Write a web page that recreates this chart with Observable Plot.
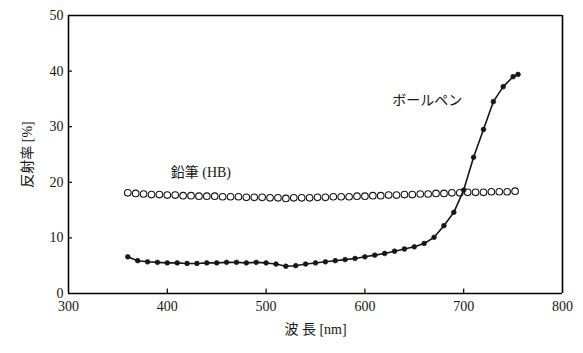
<!DOCTYPE html>
<html><head><meta charset="utf-8">
<script src="https://cdn.jsdelivr.net/npm/d3@7"></script>
<script src="https://cdn.jsdelivr.net/npm/@observablehq/plot@0.6"></script>
<style>
body{margin:0;background:#fff}
#chart svg{font-family:'Liberation Serif','Noto Sans CJK JP',serif;font-size:14px;color:#161616}
</style>
</head><body><div id="chart"></div>
<script>
const xTicks = [300, 400, 500, 600, 700, 800];
const yTicks = [0, 10, 20, 30, 40, 50];

const pencilNm = [360,368,376,384,392,400,408,416,424,432,440,448,456,464,472,480,488,496,504,512,520,528,536,544,552,560,568,576,584,592,600,608,616,624,632,640,648,656,664,672,680,688,696,704,712,720,728,736,744,752];
const pencilR = [18.1,18.0,17.9,17.8,17.8,17.7,17.7,17.6,17.6,17.5,17.5,17.5,17.4,17.4,17.4,17.3,17.3,17.3,17.2,17.2,17.1,17.2,17.2,17.2,17.3,17.3,17.4,17.4,17.4,17.5,17.5,17.6,17.6,17.7,17.7,17.8,17.8,17.9,17.9,18.0,18.0,18.1,18.1,18.2,18.2,18.2,18.3,18.3,18.3,18.4];

const penNm = [360,370,380,390,400,410,420,430,440,450,460,470,480,490,500,510,520,530,540,550,560,570,580,590,600,610,620,630,640,650,660,670,680,690,700,710,720,730,740,750,755];
const penR = [6.6,5.9,5.7,5.6,5.5,5.5,5.4,5.4,5.5,5.5,5.6,5.6,5.5,5.6,5.5,5.3,4.9,5.0,5.3,5.5,5.7,5.9,6.1,6.3,6.6,6.9,7.2,7.6,8.0,8.4,9.0,10.1,12.2,14.6,18.6,24.5,29.5,34.5,37.2,39.0,39.4];

const labelText = ["鉛筆 (HB)", "ボールペン"];
const labelNm = [434, 663];
const labelR = [21.8, 34.7];

const pencil = pencilNm.map((x, i) => ({x, y: pencilR[i]}));
const pen = penNm.map((x, i) => ({x, y: penR[i]}));
const labels = labelText.map((t, i) => ({t, x: labelNm[i], y: labelR[i]}));

const ink = "#161616";
const chart = Plot.plot({
  width: 583, height: 353,
  marginLeft: 68, marginRight: 21, marginTop: 15, marginBottom: 60,
  x: {type: "linear", domain: [300, 800], ticks: xTicks, tickSize: 0, tickPadding: 8,
      label: "波 長 [nm]", labelAnchor: "center", labelArrow: "none", labelOffset: 40},
  y: {type: "linear", domain: [0, 50], ticks: yTicks, tickSize: 0, tickPadding: 5,
      label: "反射率 [%]", labelAnchor: "center", labelArrow: "none", labelOffset: 46},
  marks: [
    Plot.line(pen, {x: "x", y: "y", stroke: ink, strokeWidth: 1.6}),
    Plot.dot(pen, {x: "x", y: "y", r: 2.4, fill: ink, stroke: ink, strokeWidth: 0.6}),
    Plot.dot(pencil, {x: "x", y: "y", r: 3.3, stroke: ink, strokeWidth: 1.1, fill: "none"}),
    Plot.text(labels, {x: "x", y: "y", text: "t", fontSize: 14, fill: ink}),
    Plot.ruleX([300, 800], {stroke: "black", strokeWidth: 1.6}),
    Plot.ruleY([0, 50], {stroke: "black", strokeWidth: 1.6}),
    Plot.ruleX(xTicks.slice(1, -1), {x: d => d, y1: 0, y2: 0.8, stroke: "black", strokeWidth: 1.2}),
    Plot.ruleY(yTicks.slice(1, -1), {y: d => d, x1: 300, x2: 304, stroke: "black", strokeWidth: 1.2})
  ]
});
document.getElementById("chart").append(chart);
</script>
</body></html>
